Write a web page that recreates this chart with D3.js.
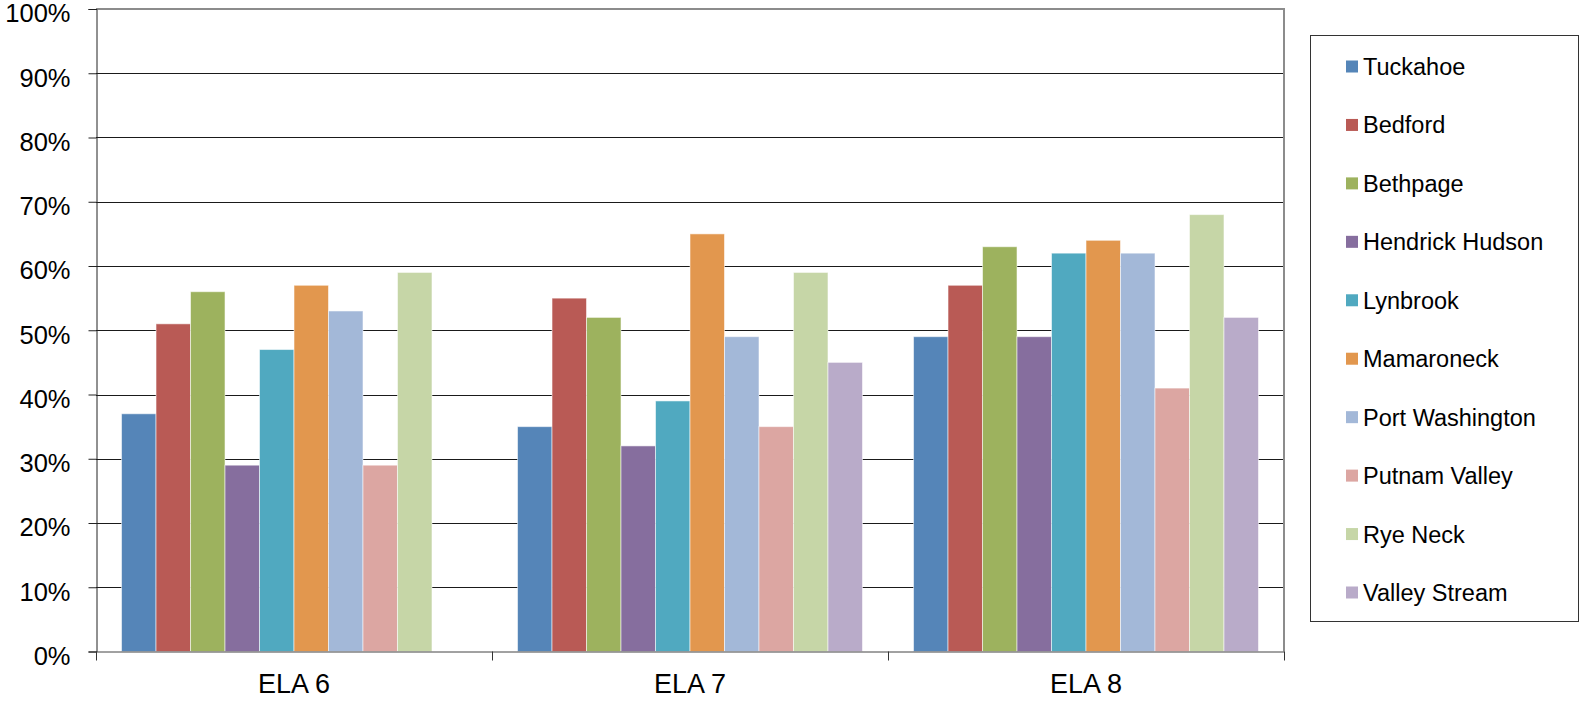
<!DOCTYPE html>
<html>
<head>
<meta charset="utf-8">
<script src="https://cdn.jsdelivr.net/npm/d3@7"></script>
<style>
  html, body { margin: 0; padding: 0; background: #fff; }
  svg { display: block; font-family: "Liberation Sans", Arial, sans-serif; }
</style>
</head>
<body>
<svg id="chart" width="1579" height="703"></svg>
<script>
// ---- data ----
const categories = ["ELA 6", "ELA 7", "ELA 8"];
const seriesNames = ["Tuckahoe", "Bedford", "Bethpage", "Hendrick Hudson", "Lynbrook",
  "Mamaroneck", "Port Washington", "Putnam Valley", "Rye Neck", "Valley Stream"];
const tuckahoe       = [0.37, 0.35, 0.49];
const bedford        = [0.51, 0.55, 0.57];
const bethpage       = [0.56, 0.52, 0.63];
const hendrickHudson = [0.29, 0.32, 0.49];
const lynbrook       = [0.47, 0.39, 0.62];
const mamaroneck     = [0.57, 0.65, 0.64];
const portWashington = [0.53, 0.49, 0.62];
const putnamValley   = [0.29, 0.35, 0.41];
const ryeNeck        = [0.59, 0.59, 0.68];
const valleyStream   = [null, 0.45, 0.52];
const seriesValues = [tuckahoe, bedford, bethpage, hendrickHudson, lynbrook,
  mamaroneck, portWashington, putnamValley, ryeNeck, valleyStream];
const colors = ["#5585B8", "#B95A55", "#9DB25E", "#866E9E", "#50A9C0",
  "#E2974E", "#A3B8D8", "#DCA6A2", "#C6D6A7", "#B9ABC9"];
const yTicks = [0, 0.1, 0.2, 0.3, 0.4, 0.5, 0.6, 0.7, 0.8, 0.9, 1.0];

// ---- layout ----
const svg = d3.select("#chart");
const pLeft = 96, pRight = 1284, pTop = 9, pBottom = 651.5;

const x = d3.scaleBand().domain(categories).range([pLeft, pRight]).padding(0);
const xi = d3.scaleBand().domain(seriesNames).range([0, x.bandwidth()])
  .paddingInner(0).paddingOuter(0.74);
const y = d3.scaleLinear().domain([0, 1]).range([pBottom, pTop]);

// gridlines
svg.append("g").selectAll("line").data(yTicks.filter(t => t > 0 && t < 1)).join("line")
  .attr("x1", pLeft).attr("x2", pRight)
  .attr("y1", d => Math.round(y(d)) + 0.5).attr("y2", d => Math.round(y(d)) + 0.5)
  .attr("stroke", "#1a1a1a").attr("stroke-width", 1);

// bars
const rows = [];
seriesNames.forEach((s, si) => {
  categories.forEach((c, ci) => {
    const v = seriesValues[si][ci];
    if (v !== null) rows.push({ s, c, v, color: colors[si] });
  });
});
svg.append("g").selectAll("rect").data(rows).join("rect")
  .attr("x", d => x(d.c) + xi(d.s))
  .attr("y", d => y(d.v))
  .attr("width", xi.bandwidth())
  .attr("height", d => y(0) - y(d.v))
  .attr("fill", d => d.color)
  .attr("stroke", "rgba(255,255,255,0.55)")
  .attr("stroke-width", 1);

// plot border: top and right gray
svg.append("line").attr("x1", pLeft).attr("x2", pRight + 1).attr("y1", pTop).attr("y2", pTop)
  .attr("stroke", "#8c8c8c").attr("stroke-width", 2);
svg.append("line").attr("x1", pRight).attr("x2", pRight).attr("y1", pTop).attr("y2", pBottom)
  .attr("stroke", "#8c8c8c").attr("stroke-width", 2);

// y axis
const yAxis = d3.axisLeft(y).tickValues(yTicks).tickSize(8)
  .tickFormat(d3.format(".0%")).tickPadding(18);
const gy = svg.append("g").attr("transform", `translate(${pLeft + 0.5},0)`).call(yAxis);
gy.select(".domain").attr("stroke", "#222");
gy.selectAll(".tick line").attr("stroke", "#222");
gy.selectAll(".tick text").attr("font-size", 25.5).attr("fill", "#000")
  .attr("font-family", "Liberation Sans, Arial, sans-serif")
  .attr("dy", "0.5em");

// x axis
const xAxis = d3.axisBottom(x).tickSize(0).tickPadding(22);
const gx = svg.append("g").attr("transform", `translate(0,${pBottom})`).call(xAxis);
gx.select(".domain").attr("stroke", "#444");
gx.selectAll(".tick text").attr("font-size", 27).attr("fill", "#000")
  .attr("font-family", "Liberation Sans, Arial, sans-serif");
// category boundary ticks
const bounds = categories.map(c => x(c)).concat([pRight]);
gx.append("g").selectAll("line").data(bounds).join("line")
  .attr("x1", d => Math.round(d) + 0.5).attr("x2", d => Math.round(d) + 0.5)
  .attr("y1", 0).attr("y2", 9).attr("stroke", "#333");

// legend
const lg = svg.append("g");
lg.append("rect").attr("x", 1310.5).attr("y", 35.5).attr("width", 268).attr("height", 586)
  .attr("fill", "#fff").attr("stroke", "#333").attr("stroke-width", 1);
const ly = d3.scalePoint().domain(seriesNames).range([66.5, 592.5]);
const items = lg.selectAll("g.item").data(seriesNames).join("g").attr("class", "item")
  .attr("transform", d => `translate(0,${ly(d)})`);
items.append("rect").attr("x", 1346).attr("y", -6).attr("width", 12).attr("height", 12)
  .attr("fill", (d, i) => colors[i]);
items.append("text").attr("x", 1363).attr("y", 0).attr("dy", "0.36em")
  .attr("font-size", 23.5).attr("fill", "#000").text(d => d);
</script>
</body>
</html>
